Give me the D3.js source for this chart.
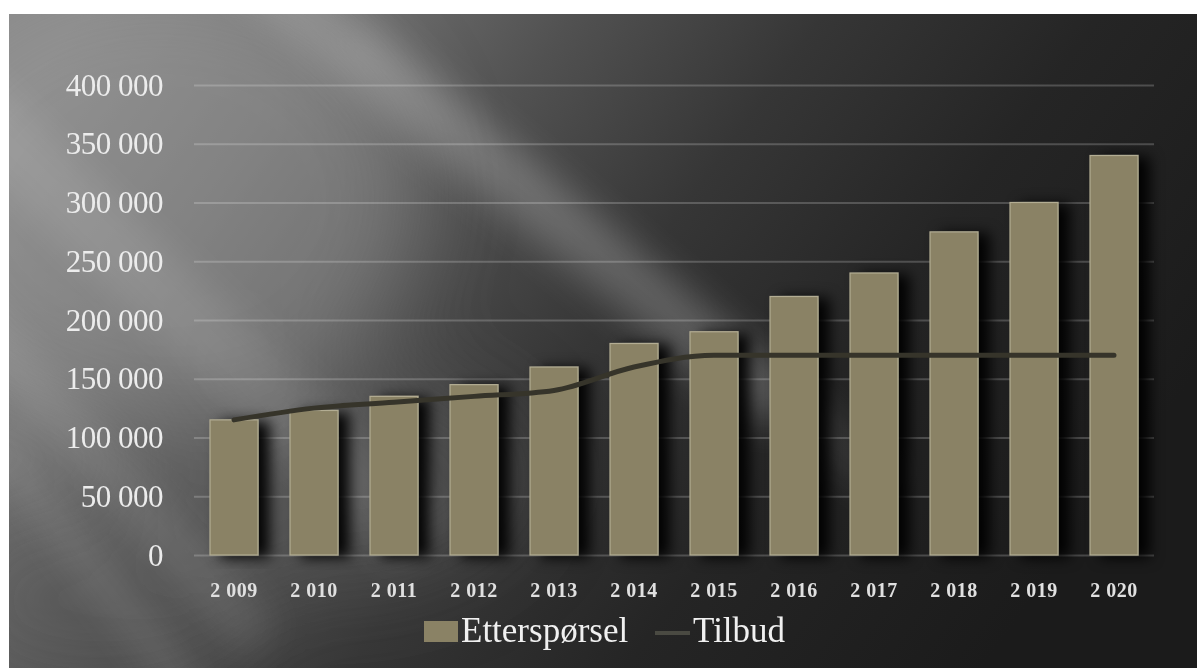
<!DOCTYPE html>
<html>
<head>
<meta charset="utf-8">
<script src="https://cdn.jsdelivr.net/npm/d3@7"></script>
<style>
  html, body { margin: 0; padding: 0; background: #ffffff; }
  svg { display: block; }
</style>
</head>
<body>
<svg id="chart" width="1197" height="668"></svg>
<script>
// Annual demand vs supply
const years = [2009, 2010, 2011, 2012, 2013, 2014, 2015, 2016, 2017, 2018, 2019, 2020];
const etterspørsel = [115000, 123000, 135000, 145000, 160000, 180000, 190000, 220000, 240000, 275000, 300000, 340000];
const tilbud = [115000, 125000, 130000, 135000, 140000, 160000, 170000, 170000, 170000, 170000, 170000, 170000];
const yTicks = [0, 50000, 100000, 150000, 200000, 250000, 300000, 350000, 400000];
const seriesNames = ["Etterspørsel", "Tilbud"];

const W = 1197, H = 668;
const plot = { left: 194, right: 1154, top: 85, bottom: 555 };

const nb = d3.formatLocale({ decimal: ",", thousands: " ", grouping: [3], currency: ["", " kr"] });
const fmt = nb.format(",d");

const svg = d3.select("#chart");
const defs = svg.append("defs");

// ---------- background ----------
const bg = defs.append("linearGradient").attr("id", "bgGrad")
  .attr("x1", 0).attr("y1", 0.15).attr("x2", 1).attr("y2", 0.55);
[[0, "#8a8a8a"], [0.18, "#727272"], [0.36, "#515151"], [0.54, "#363636"], [0.74, "#252525"], [1, "#1b1b1b"]]
  .forEach(([o, c]) => bg.append("stop").attr("offset", o).attr("stop-color", c));

defs.append("filter").attr("id", "soft").attr("x", "-50%").attr("y", "-50%").attr("width", "200%").attr("height", "200%")
  .append("feGaussianBlur").attr("stdDeviation", 18);
defs.append("filter").attr("id", "softer").attr("x", "-50%").attr("y", "-50%").attr("width", "200%").attr("height", "200%")
  .append("feGaussianBlur").attr("stdDeviation", 45);

defs.append("clipPath").attr("id", "bgClip")
  .append("rect").attr("x", 9).attr("y", 14).attr("width", W - 9).attr("height", H - 14);

const bgG = svg.append("g").attr("clip-path", "url(#bgClip)");
bgG.append("rect").attr("x", 9).attr("y", 14).attr("width", W - 9).attr("height", H - 14)
  .attr("fill", "url(#bgGrad)");

// broad glow over the upper left
const glow = bgG.append("g").attr("filter", "url(#softer)");
glow.append("ellipse").attr("cx", 160).attr("cy", 200).attr("rx", 260).attr("ry", 220)
  .attr("fill", "#9a9a9a").attr("opacity", 0.45);
glow.append("ellipse").attr("cx", 330).attr("cy", 480).attr("rx", 200).attr("ry", 110)
  .attr("fill", "#6a6a6a").attr("opacity", 0.4);
glow.append("ellipse").attr("cx", 100).attr("cy", 600).attr("rx", 160).attr("ry", 90)
  .attr("fill", "#5a5a5a").attr("opacity", 0.4);

// diagonal light streaks
const streaks = bgG.append("g").attr("filter", "url(#soft)");
const streak = (cx, cy, len, wid, ang, col, op) =>
  streaks.append("rect")
    .attr("x", -len / 2).attr("y", -wid / 2).attr("width", len).attr("height", wid)
    .attr("transform", `translate(${cx},${cy}) rotate(${ang})`)
    .attr("fill", col).attr("opacity", op);
streak(470, 150, 800, 60, 40, "#ffffff", 0.16);
streak(620, 260, 700, 40, 40, "#ffffff", 0.09);
streak(170, 300, 700, 70, 44, "#ffffff", 0.10);
streak(60, 420, 600, 50, 48, "#ffffff", 0.10);
streak(110, 590, 400, 30, 52, "#ffffff", 0.12);

// ---------- scales ----------
const x = d3.scaleBand().domain(years).range([plot.left, plot.right])
  .paddingInner(0.4).paddingOuter(0.2);
const y = d3.scaleLinear().domain([0, 400000]).range([plot.bottom, plot.top]);

// ---------- gridlines + y labels ----------
const yAxis = svg.append("g").attr("transform", `translate(${plot.left},0)`)
  .call(d3.axisLeft(y).tickValues(yTicks).tickFormat(fmt)
    .tickSize(-(plot.right - plot.left)).tickPadding(31));
yAxis.select(".domain").remove();
yAxis.selectAll(".tick line")
  .attr("stroke", "#ffffff").attr("stroke-opacity", 0.2).attr("stroke-width", 2);
yAxis.selectAll(".tick text")
  .attr("fill", "#ececec")
  .attr("font-family", "'Liberation Serif', 'DejaVu Serif', serif")
  .attr("font-size", 31).attr("letter-spacing", -0.5).attr("dy", "0.33em");

// ---------- bars ----------
const shadow = defs.append("filter").attr("id", "barShadow")
  .attr("x", "-20%").attr("y", "-10%").attr("width", "180%").attr("height", "120%");
shadow.append("feDropShadow").attr("dx", 11).attr("dy", 2).attr("stdDeviation", 7)
  .attr("flood-color", "#000000").attr("flood-opacity", 0.95);

svg.append("g").selectAll("rect")
  .data(years.map((yr, i) => ({ yr, v: etterspørsel[i] })))
  .join("rect")
  .attr("x", d => x(d.yr))
  .attr("y", d => y(d.v))
  .attr("width", x.bandwidth())
  .attr("height", d => y(0) - y(d.v))
  .attr("fill", "#8a8265")
  .attr("stroke", "#b3ad93").attr("stroke-width", 1.2)
  .attr("filter", "url(#barShadow)");

// ---------- supply line ----------
const line = d3.line()
  .x((d, i) => x(years[i]) + x.bandwidth() / 2)
  .y(d => y(d))
  .curve(d3.curveMonotoneX);
svg.append("path").datum(tilbud)
  .attr("d", line)
  .attr("fill", "none")
  .attr("stroke", "#36342a").attr("stroke-width", 5)
  .attr("stroke-linecap", "round");

// ---------- x labels ----------
const xAxis = svg.append("g").attr("transform", `translate(0,${plot.bottom})`)
  .call(d3.axisBottom(x).tickFormat(fmt).tickSize(0).tickPadding(28));
xAxis.select(".domain").remove();
xAxis.selectAll(".tick text")
  .attr("fill", "#e0e0e0")
  .attr("font-family", "'Liberation Serif', 'DejaVu Serif', serif")
  .attr("font-weight", "bold")
  .attr("font-size", 20)
  .attr("letter-spacing", 0.5);

// ---------- legend ----------
const lg = svg.append("g").attr("font-family", "'Liberation Serif', 'DejaVu Serif', serif")
  .attr("font-size", 35).attr("fill", "#f0f0f0");
lg.append("rect").attr("x", 424).attr("y", 621).attr("width", 34).attr("height", 21).attr("fill", "#8a8265");
lg.append("text").attr("x", 461).attr("y", 642).text(seriesNames[0]);
lg.append("line").attr("x1", 655).attr("x2", 690).attr("y1", 633).attr("y2", 633)
  .attr("stroke", "#4a4a42").attr("stroke-width", 4);
lg.append("text").attr("x", 693).attr("y", 642).text(seriesNames[1]);
</script>
</body>
</html>
